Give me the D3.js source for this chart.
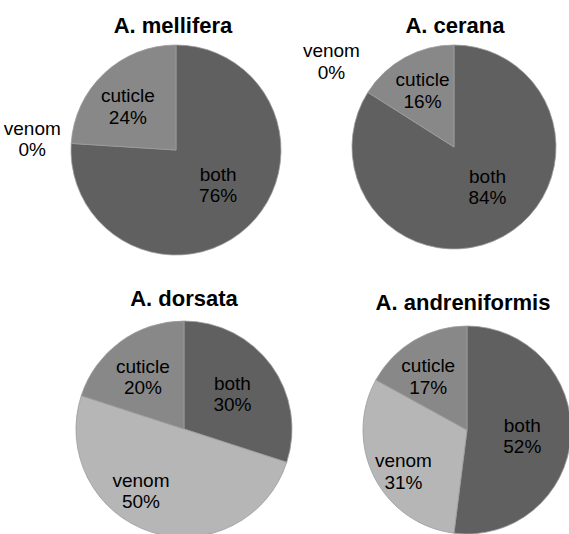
<!DOCTYPE html>
<html>
<head>
  <title>Apis peptide source pies</title>
  <script src="https://d3js.org/d3.v7.min.js"></script>
  <style>
    body { margin: 0; background: #fff; }
    .title { font: bold 22px "Liberation Sans", Arial, sans-serif; fill: #000; }
    .slicetext { font: 19px "Liberation Sans", Arial, sans-serif; fill: #000; }
    .slice { stroke: #9c9c9c; stroke-width: 0.8px; }
  </style>
</head>
<body>
  <script>
    var width = 569,
        height = 534;

    // data
    var species = ["A. mellifera", "A. cerana", "A. dorsata", "A. andreniformis"];
    var categories = ["both", "venom", "cuticle"];
    var both = [76, 84, 30, 52];
    var venom = [0, 0, 50, 31];
    var cuticle = [24, 16, 20, 17];

    // layout of each panel (center, radius, title baseline)
    var panels = [
      {cx: 176, cy: 150, r: 105, tx: 173, ty: 33},
      {cx: 454, cy: 147, r: 102, tx: 455, ty: 33},
      {cx: 184, cy: 429, r: 108, tx: 184, ty: 306},
      {cx: 467, cy: 430, r: 104, tx: 463, ty: 310}
    ];
    // small label nudges, per panel, in category order
    var nudge = [
      [[-1, -11], [3, -2], [-5, 2]],
      [[4, -14], [-2, -9], [-2, -3]],
      [[-4, 3], [-23, 0], [-3, 0]],
      [[-7, 2], [-8, 13], [-7, 0]]
    ];

    var color = d3.scaleOrdinal()
        .domain(categories)
        .range(["#606060", "#b6b6b6", "#888888"]);

    var pie = d3.pie().sort(null).value(function(d) { return d.value; });

    var svg = d3.select("body").append("svg")
        .attr("width", width)
        .attr("height", height);

    species.forEach(function(name, i) {
      var p = panels[i];
      var values = [both[i], venom[i], cuticle[i]];
      var data = categories.map(function(c, j) { return {cat: c, value: values[j], idx: j}; });

      var g = svg.append("g")
          .attr("transform", "translate(" + p.cx + "," + p.cy + ")");

      var arc = d3.arc().innerRadius(0).outerRadius(p.r);
      var inLabel = d3.arc().innerRadius(p.r * 0.6).outerRadius(p.r * 0.6);
      var outLabel = d3.arc().innerRadius(p.r * 1.4).outerRadius(p.r * 1.4);

      var arcs = pie(data);

      g.selectAll(".slice")
          .data(arcs.filter(function(d) { return d.data.value > 0; }))
          .enter().append("path")
          .attr("class", "slice")
          .attr("d", arc)
          .style("fill", function(d) { return color(d.data.cat); });

      var lab = g.selectAll(".lab")
          .data(arcs)
          .enter().append("text")
          .attr("class", "slicetext")
          .attr("text-anchor", "middle")
          .attr("transform", function(d) {
            var c = d.data.value > 0 ? inLabel.centroid(d) : outLabel.centroid(d);
            var n = nudge[i][d.data.idx];
            return "translate(" + (c[0] + n[0]) + "," + (c[1] + n[1]) + ")";
          });

      lab.append("tspan")
          .attr("x", 0)
          .attr("y", -4)
          .text(function(d) { return d.data.cat; });
      lab.append("tspan")
          .attr("x", 0)
          .attr("y", 17.5)
          .text(function(d) { return d.data.value + "%"; });

      svg.append("text")
          .attr("class", "title")
          .attr("x", p.tx)
          .attr("y", p.ty)
          .attr("text-anchor", "middle")
          .text(name);
    });
  </script>
</body>
</html>
